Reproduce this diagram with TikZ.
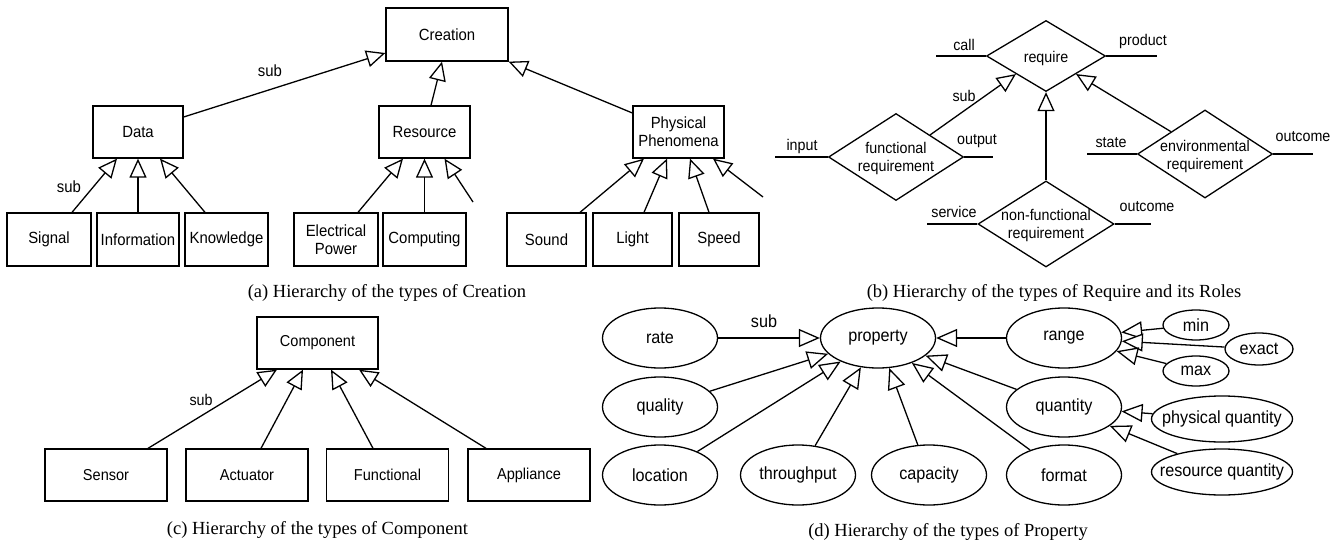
\documentclass[tikz,border=0pt]{standalone}
\usepackage{fontspec}
\setmainfont{Liberation Serif}
\newfontfamily\dfont[FakeStretch=0.92]{Liberation Sans}
\usetikzlibrary{shapes.geometric,arrows.meta,calc}
\begin{document}
\begin{tikzpicture}[x=1pt,y=-1pt,
  box/.style={draw, line width=1.3pt, inner sep=0pt, align=center, font=\dfont\fontsize{16.2}{18}\selectfont},
  abot/.style={box, minimum width=83pt, minimum height=53pt},
  amid/.style={box, minimum width=91pt, minimum height=52pt},
  cbox/.style={box, minimum width=122pt, minimum height=52pt, font=\dfont\fontsize{15.8}{18}\selectfont},
  dia/.style={draw, diamond, line width=1.3pt, inner sep=0pt},
  btxt/.style={inner sep=0pt, align=center, font=\dfont\fontsize{15.5}{18}\selectfont},
  ell/.style={draw, ellipse, line width=1.3pt, inner sep=0pt, minimum width=115pt, minimum height=60pt, font=\dfont\fontsize{17.6}{20}\selectfont},
  sell/.style={ell, minimum width=67pt, minimum height=31pt},
  dtxt/.style={inner sep=0pt, font=\dfont\fontsize{17.6}{20}\selectfont},
  lbl/.style={inner sep=0pt, font=\dfont\fontsize{16.2}{18}\selectfont},
  captxt/.style={inner sep=0pt, font=\fontsize{18.5}{22}\selectfont},
  ln/.style={line width=1.3pt},
  gen/.style={line width=1.3pt, -{Triangle[length=19pt,width=17pt,fill=white]}},
  gend/.style={line width=1.3pt, -{Triangle[length=21pt,width=18pt,fill=white]}}
]
\fill[white] (0,0) rectangle (1340,545);
\useasboundingbox (0,0) rectangle (1340,545);

% ---------------- (a) Creation ----------------
\node[box, minimum width=122pt, minimum height=53pt] (creation) at (447,34.5) {Creation};
\node[amid, minimum width=90pt] (data) at (138,132) {Data};
\node[amid] (res) at (424.5,132) {Resource};
\node[amid] (pp) at (678.5,132) {Physical\\Phenomena};
\node[abot, minimum width=84pt] (signal) at (49,239.5) {Signal};
\node[abot, minimum width=82pt] (info) at (138,239.5) {Information};
\node[abot] (know) at (226.5,239.5) {Knowledge};
\node[abot, minimum width=84pt] (ep) at (336,239.5) {Electrical\\Power};
\node[abot] (comp) at (424.5,239.5) {Computing};
\node[abot, minimum width=79pt] (sound) at (546.5,239.5) {Sound};
\node[abot, minimum width=79pt] (light) at (632.5,239.5) {Light};
\node[abot, minimum width=80pt] (speed) at (719,239.5) {Speed};
\coordinate (resfree) at (473,202);
\coordinate (ppfree) at (763,197);

\draw[gen] ($(data.east)+(0,-15)$) -- ($(creation.west)+(0,18.5)$);
\draw[gen] ($(res.north)+(6.5,0)$) -- ($(creation.south)+(-5,0)$);
\draw[gen] ($(pp.west)+(0,-19)$) -- (creation.south east);
\draw[gen] ($(signal.north)+(23,0)$) -- ($(data.south)+(-21,0)$);
\draw[gen] (info.north) -- (data.south);
\draw[gen] ($(know.north)+(-21.5,0)$) -- ($(data.south)+(22,0)$);
\draw[gen] ($(ep.north)+(22,0)$) -- ($(res.south)+(-21.5,0)$);
\draw[gen] (comp.north) -- (res.south);
\draw[gen] (resfree) -- ($(res.south)+(20,0)$);
\draw[gen] ($(sound.north)+(33.5,0)$) -- ($(pp.south)+(-34.5,0)$);
\draw[gen] ($(light.north)+(11.5,0)$) -- ($(pp.south)+(-11.5,0)$);
\draw[gen] ($(speed.north)+(-10,0)$) -- ($(pp.south)+(11.5,0)$);
\draw[gen] (ppfree) -- ($(pp.south)+(34.5,0)$);
\node[lbl] (asub1) at (270,71) {sub};
\node[lbl] (asub2) at (69,187) {sub};
\node[captxt] (capa) at (387,293) {(a) Hierarchy of the types of Creation};

% ---------------- (b) Require ----------------
\node[dia, minimum width=119pt, minimum height=71pt] (req) at (1046,56) {};
\node[btxt] (reqt) at (1046,58) {require};
\node[dia, minimum width=135pt, minimum height=87pt] (fr) at (896,157) {};
\node[btxt] (frt) at (896,158) {functional\\requirement};
\node[dia, minimum width=136pt, minimum height=86pt] (nfr) at (1046,224) {};
\node[btxt] (nfrt) at (1046,225.5) {non-functional\\requirement};
\node[dia, minimum width=135pt, minimum height=88pt] (er) at (1205,154) {};
\node[btxt] (ert) at (1205,156) {environmental\\requirement};

\coordinate (callend) at (936,56);
\coordinate (prodend) at (1157,56);
\coordinate (inend) at (775,157);
\coordinate (outend) at (993,157);
\coordinate (servend) at (927,224);
\coordinate (nfroutend) at (1151,224);
\coordinate (stateend) at (1087,154);
\coordinate (eroutend) at (1313,154);
\draw[ln] (callend) -- (req.west);
\draw[ln] (req.east) -- (prodend);
\draw[ln] (inend) -- (fr.west);
\draw[ln] (fr.east) -- (outend);
\draw[ln] (servend) -- (nfr.west);
\draw[ln] (nfr.east) -- (nfroutend);
\draw[ln] (stateend) -- (er.west);
\draw[ln] (er.east) -- (eroutend);

\draw[gen] ($(fr.north)!0.5!(fr.east)$) -- ($(req.west)!0.5!(req.south)$);
\draw[gen] (nfr.north) -- (req.south);
\draw[gen] ($(er.north)!0.5!(er.west)$) -- ($(req.east)!0.5!(req.south)$);

\node[btxt] (lcall) at (964,45) {call};
\node[btxt] (lprod) at (1143,41) {product};
\node[btxt] (lin) at (802,146) {input};
\node[btxt] (lout) at (977,141) {output};
\node[btxt] (lsub) at (964,96) {sub};
\node[btxt] (lserv) at (954,212) {service};
\node[btxt] (lnout) at (1147,207) {outcome};
\node[btxt] (lstate) at (1111,143) {state};
\node[btxt] (leout) at (1303,137) {outcome};
\node[captxt] (capb) at (1054,293) {(b) Hierarchy of the types of Require and its Roles};

% ---------------- (c) Component ----------------
\node[cbox, minimum width=121pt] (cmp) at (317.5,343) {Component};
\node[cbox] (sensor) at (106,475) {Sensor};
\node[cbox] (actuator) at (247,475) {Actuator};
\node[cbox] (functional) at (387.5,475) {Functional};
\node[cbox] (appliance) at (529,475) {Appliance};
\draw[gen] ($(sensor.north)+(42,0)$) -- ($(cmp.south)+(-40.5,0)$);
\draw[gen] ($(actuator.north)+(14,0)$) -- ($(cmp.south)+(-14.5,0)$);
\draw[gen] ($(functional.north)+(-14.5,0)$) -- ($(cmp.south)+(13.5,0)$);
\draw[gen] ($(appliance.north)+(-43,0)$) -- ($(cmp.south)+(41.5,0)$);
\node[btxt] (csub) at (201,400) {sub};
\node[captxt] (capc) at (317.5,530) {(c) Hierarchy of the types of Component};

% ---------------- (d) Property ----------------
\node[ell] (rate) at (660,338) {rate};
\node[ell] (prop) at (878,338) {property};
\node[ell] (range) at (1064,338) {range};
\node[ell] (quality) at (660,407) {quality};
\node[ell] (quantity) at (1064,407) {quantity};
\node[ell] (location) at (660,475) {location};
\node[ell] (throughput) at (798,475) {throughput};
\node[ell] (capacity) at (929,475) {capacity};
\node[ell] (format) at (1064,475) {format};
\node[sell, minimum width=66pt, minimum height=30pt] (min) at (1196,325) {min};
\node[sell, minimum width=68pt, minimum height=32pt] (exact) at (1259,349) {exact};
\node[sell, minimum width=66pt, minimum height=30pt] (max) at (1196,371) {max};
\node[ell, minimum width=141pt, minimum height=46pt] (pq) at (1222,419) {};
\node[dtxt] (pqt) at (1222,419) {physical quantity};
\node[ell, minimum width=141pt, minimum height=46pt] (rq) at (1222,472) {};
\node[dtxt] (rqt) at (1222,472) {resource quantity};

\draw[gend] (rate) -- (prop);
\draw[gend] (range) -- (prop);
\draw[gend] (quality) -- (prop);
\draw[gend] (location) -- (prop);
\draw[gend] (throughput) -- (prop);
\draw[gend] (capacity) -- (prop);
\draw[gend] (format) -- (prop);
\draw[gend] (quantity) -- (prop);
\draw[gend] (min) -- (range);
\draw[gend] (exact) -- (range);
\draw[gend] (max) -- (range);
\draw[gend] (pq) -- (quantity);
\draw[gend] (rq) -- (quantity);
\node[dtxt] (dsub) at (764,321) {sub};
\node[captxt] (capd) at (948,532) {(d) Hierarchy of the types of Property};
\end{tikzpicture}
\end{document}
